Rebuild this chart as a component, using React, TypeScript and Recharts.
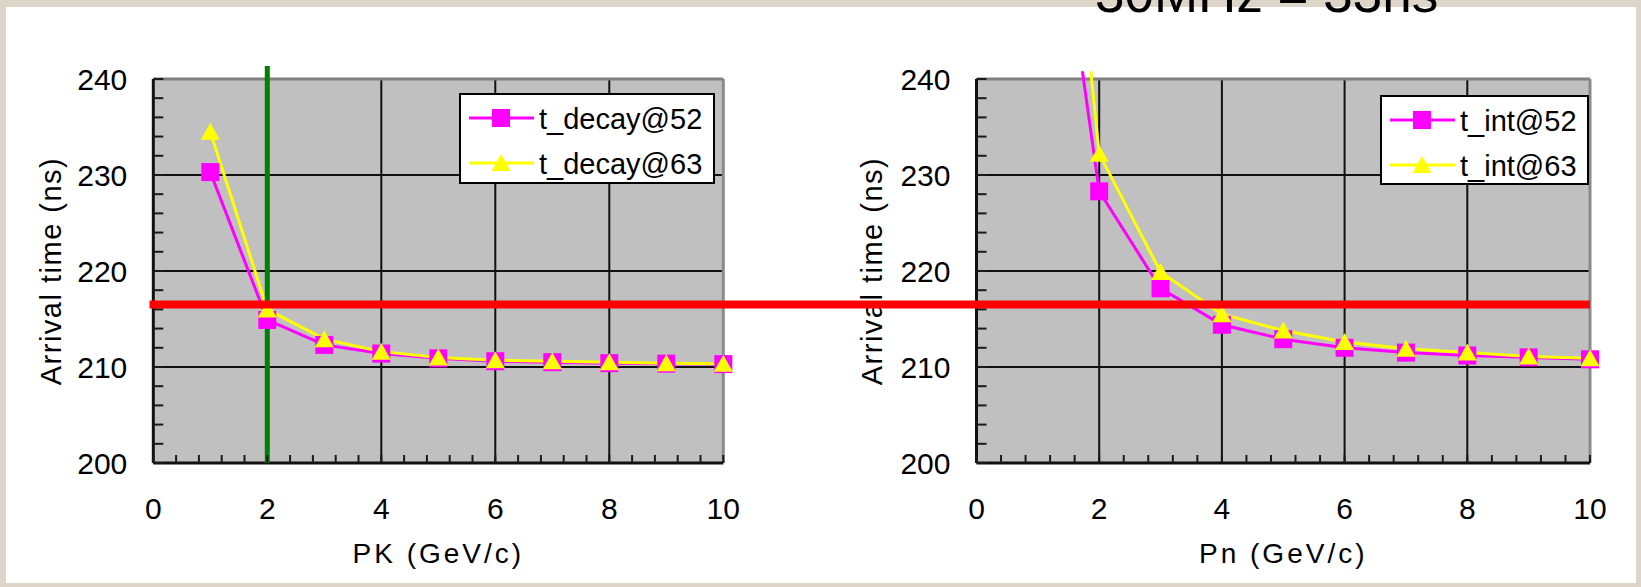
import { LineChart, Line, XAxis, YAxis, ReferenceLine, ReferenceArea } from "recharts";

// momentum points (GeV/c)
const momenta = [1, 2, 3, 4, 5, 6, 7, 8, 9, 10];

// left panel: kaon, arrival time (ns)
const tDecay52 = [230.3, 214.9, 212.3, 211.4, 210.9, 210.6, 210.5, 210.4, 210.35, 210.3];
const tDecay63 = [234.5, 216.0, 212.9, 211.6, 211.0, 210.7, 210.6, 210.5, 210.4, 210.35];

// right panel: neutron, arrival time (ns)
const tInt52 = [274, 228.3, 218.2, 214.4, 212.9, 212.0, 211.5, 211.2, 211.0, 210.8];
const tInt63 = [295, 232.2, 219.9, 215.5, 213.8, 212.6, 211.9, 211.5, 211.1, 210.9];

const yTicks = [200, 202, 204, 206, 208, 210, 212, 214, 216, 218, 220, 222, 224, 226, 228, 230, 232, 234, 236, 238, 240];
const yLabels = [200, 210, 220, 230, 240];
const yGrid = [210, 220, 230];
const xTicks = [0, 0.4, 0.8, 1.2, 1.6, 2, 2.4, 2.8, 3.2, 3.6, 4, 4.4, 4.8, 5.2, 5.6, 6, 6.4, 6.8, 7.2, 7.6, 8, 8.4, 8.8, 9.2, 9.6, 10];
const xLabels = [0, 2, 4, 6, 8, 10];
const xGrid = [2, 4, 6, 8];

const kaonCut = 2; // green marker, GeV/c
const timeCut = 216.5; // red marker, ns
const redLineStart = -13.48; // left end of the red marker, in right-panel x units

const MAGENTA = "#ff00ff";
const YELLOW = "#ffff00";
const FONT = '"Liberation Sans", Arial, sans-serif';

const LEFT_TOP = 241.35;
const RIGHT_TOP = 240.8;
const Y_GAP = 26;

const leftRows = momenta.map((p, i) => ({ p, a: tDecay52[i], b: tDecay63[i] }));
const rightRows = momenta.map((p, i) => ({ p, a: tInt52[i], b: tInt63[i] }));

const renderYTick = (props: any) => {
  const { x, y, payload } = props;
  const axisX = x + Y_GAP;
  const v = payload.value;
  return (
    <g>
      <line x1={axisX} x2={axisX + 10} y1={y} y2={y} stroke="#1a1a1a" strokeWidth={2} />
      {yLabels.includes(v) && (
        <text x={x} y={y + 11} textAnchor="end" fontSize={30} fill="#000">
          {v}
        </text>
      )}
    </g>
  );
};

const renderXTick = (props: any) => {
  const { x, y, payload } = props;
  const v = payload.value;
  return (
    <g>
      <line x1={x} x2={x} y1={y} y2={y - 8} stroke="#1a1a1a" strokeWidth={2} />
      {xLabels.includes(v) && (
        <text x={x} y={y + 56} textAnchor="middle" fontSize={30} fill="#000">
          {v}
        </text>
      )}
    </g>
  );
};

// rotated y title, centred on the 200..240 band
const yTitle = (offset: number) => (props: any) => {
  const vb = props.viewBox;
  const x = vb.x + offset;
  const y = 271;
  return (
    <text
      x={x}
      y={y}
      transform={`rotate(-90 ${x} ${y})`}
      textAnchor="middle"
      dy={10}
      fontSize={29}
      letterSpacing={1.5}
      fill="#000"
    >
      Arrival time (ns)
    </text>
  );
};

const renderSquare = (props: any) => {
  const { cx, cy, index } = props;
  if (cx == null || cy == null) return <g key={`sq-${index}`} />;
  return <rect key={`sq-${index}`} x={cx - 9} y={cy - 9} width={18} height={18} fill={MAGENTA} />;
};

const renderTriangle = (props: any) => {
  const { cx, cy, index } = props;
  if (cx == null || cy == null) return <g key={`tr-${index}`} />;
  return (
    <polygon
      key={`tr-${index}`}
      points={`${cx},${cy - 9} ${cx + 9.5},${cy + 8} ${cx - 9.5},${cy + 8}`}
      fill={YELLOW}
    />
  );
};

// plot frame: gray fill, grid, axis lines
const frame = () => [
  <ReferenceArea key="bg" x1={0} x2={10} y1={200} y2={240} fill="#c0c0c0" fillOpacity={1} stroke="none" zIndex={-200} />,
  ...yGrid.map((v) => (
    <ReferenceLine key={`gy${v}`} segment={[{ x: 0, y: v }, { x: 10, y: v }]} stroke="#111" strokeWidth={2} zIndex={-50} />
  )),
  ...xGrid.map((v) => (
    <ReferenceLine key={`gx${v}`} segment={[{ x: v, y: 200 }, { x: v, y: 240 }]} stroke="#111" strokeWidth={2} zIndex={-50} />
  )),
  <ReferenceLine key="top" segment={[{ x: 0, y: 240 }, { x: 10, y: 240 }]} stroke="#808080" strokeWidth={3} zIndex={-50} />,
  <ReferenceLine key="right" segment={[{ x: 10, y: 200 }, { x: 10, y: 240 }]} stroke="#8a8a8a" strokeWidth={3} zIndex={-50} />,
  <ReferenceLine key="left" segment={[{ x: 0, y: 200 }, { x: 0, y: 240 }]} stroke="#111" strokeWidth={3} zIndex={-50} />,
  <ReferenceLine key="bottom" segment={[{ x: 0, y: 200 }, { x: 10, y: 200 }]} stroke="#111" strokeWidth={3} zIndex={-50} />,
];

const axisTitle = { fontSize: 28, fill: "#000" };

function LegendBox({ left, top, width, height, items }: any) {
  return (
    <svg
      width={width}
      height={height}
      style={{ position: "absolute", left, top, overflow: "visible" }}
    >
      <rect x={1} y={1} width={width - 2} height={height - 2} fill="#fff" stroke="#000" strokeWidth={2} />
      {items.map((it: any, i: number) => {
        const cy = 25 + i * 45;
        return (
          <g key={it.name}>
            <line x1={10} x2={75} y1={cy} y2={cy} stroke={it.color} strokeWidth={3} />
            {it.shape === "square"
              ? renderSquare({ cx: 42, cy, index: i })
              : renderTriangle({ cx: 42, cy, index: i })}
            <text x={80} y={cy + 10.5} fontSize={29} fill="#000">
              {it.name}
            </text>
          </g>
        );
      })}
    </svg>
  );
}

export default function App() {
  return (
    <div
      style={{
        position: "absolute",
        left: 0,
        top: 0,
        width: 1641,
        height: 587,
        background: "#ddd5c8",
        overflow: "hidden",
        fontFamily: FONT,
      }}
    >
      <div style={{ position: "absolute", left: 6, top: 7, width: 1630, height: 576, background: "#fff" }} />

      <div style={{ position: "absolute", left: 0, top: 0 }}>
        <LineChart width={800} height={587} data={leftRows} margin={{ top: 66, right: 76.7, left: 0, bottom: 0 }}>
          <XAxis
            type="number"
            dataKey="p"
            domain={[0, 10]}
            ticks={xTicks}
            interval={0}
            axisLine={false}
            tickLine={false}
            tickSize={0}
            tickMargin={0}
            height={124}
            tick={renderXTick}
            label={{ value: "PK (GeV/c)", position: "insideBottom", offset: 24, style: { ...axisTitle, letterSpacing: 3 } }}
          />
          <YAxis
            type="number"
            domain={[200, LEFT_TOP]}
            ticks={yTicks}
            interval={0}
            axisLine={false}
            tickLine={false}
            tickSize={0}
            tickMargin={Y_GAP}
            width={153.3}
            tick={renderYTick}
            label={{ position: "insideLeft", content: yTitle(51) }}
          />
          {frame()}
          <Line dataKey="a" name="t_decay@52" stroke={MAGENTA} strokeWidth={3} dot={renderSquare} activeDot={false} isAnimationActive={false} />
          <Line dataKey="b" name="t_decay@63" stroke={YELLOW} strokeWidth={3} dot={renderTriangle} activeDot={false} isAnimationActive={false} />
          <ReferenceLine x={kaonCut} stroke="#008000" strokeWidth={5} zIndex={450} />
        </LineChart>
      </div>

      <div style={{ position: "absolute", left: 0, top: 0 }}>
        <LineChart width={1641} height={587} data={rightRows} margin={{ top: 71.3, right: 51, left: 836, bottom: 0 }}>
          <XAxis
            type="number"
            dataKey="p"
            domain={[0, 10]}
            ticks={xTicks}
            interval={0}
            axisLine={false}
            tickLine={false}
            tickSize={0}
            tickMargin={0}
            height={124}
            tick={renderXTick}
            label={{ value: "Pn (GeV/c)", position: "insideBottom", offset: 24, style: { ...axisTitle, letterSpacing: 3 } }}
          />
          <YAxis
            type="number"
            domain={[200, RIGHT_TOP]}
            ticks={yTicks}
            interval={0}
            axisLine={false}
            tickLine={false}
            tickSize={0}
            tickMargin={Y_GAP}
            width={140.5}
            tick={renderYTick}
            label={{ position: "insideLeft", content: yTitle(36) }}
          />
          <YAxis yAxisId="clip" hide type="number" domain={[200, RIGHT_TOP]} allowDataOverflow />
          {frame()}
          <Line yAxisId="clip" dataKey="a" stroke={MAGENTA} strokeWidth={3} dot={false} activeDot={false} isAnimationActive={false} />
          <Line
            dataKey={(r: any) => (r.a <= RIGHT_TOP ? r.a : null)}
            stroke="none"
            dot={renderSquare}
            activeDot={false}
            isAnimationActive={false}
          />
          <Line yAxisId="clip" dataKey="b" stroke={YELLOW} strokeWidth={3} dot={false} activeDot={false} isAnimationActive={false} />
          <Line
            dataKey={(r: any) => (r.b <= RIGHT_TOP ? r.b : null)}
            stroke="none"
            dot={renderTriangle}
            activeDot={false}
            isAnimationActive={false}
          />
          <ReferenceLine
            segment={[{ x: redLineStart, y: timeCut }, { x: 10, y: timeCut }]}
            ifOverflow="visible"
            stroke="#ff0000"
            strokeWidth={8}
            zIndex={2500}
          />
        </LineChart>
      </div>

      <LegendBox
        left={459}
        top={93}
        width={256}
        height={91}
        items={[
          { name: "t_decay@52", color: MAGENTA, shape: "square" },
          { name: "t_decay@63", color: YELLOW, shape: "triangle" },
        ]}
      />
      <LegendBox
        left={1380}
        top={95}
        width={209}
        height={90}
        items={[
          { name: "t_int@52", color: MAGENTA, shape: "square" },
          { name: "t_int@63", color: YELLOW, shape: "triangle" },
        ]}
      />

      <svg width={1641} height={40} style={{ position: "absolute", left: 0, top: 0 }}>
        <text x={1095} y={12} fontSize={53} fill="#000">
          30MHz = 33ns
        </text>
      </svg>
    </div>
  );
}
